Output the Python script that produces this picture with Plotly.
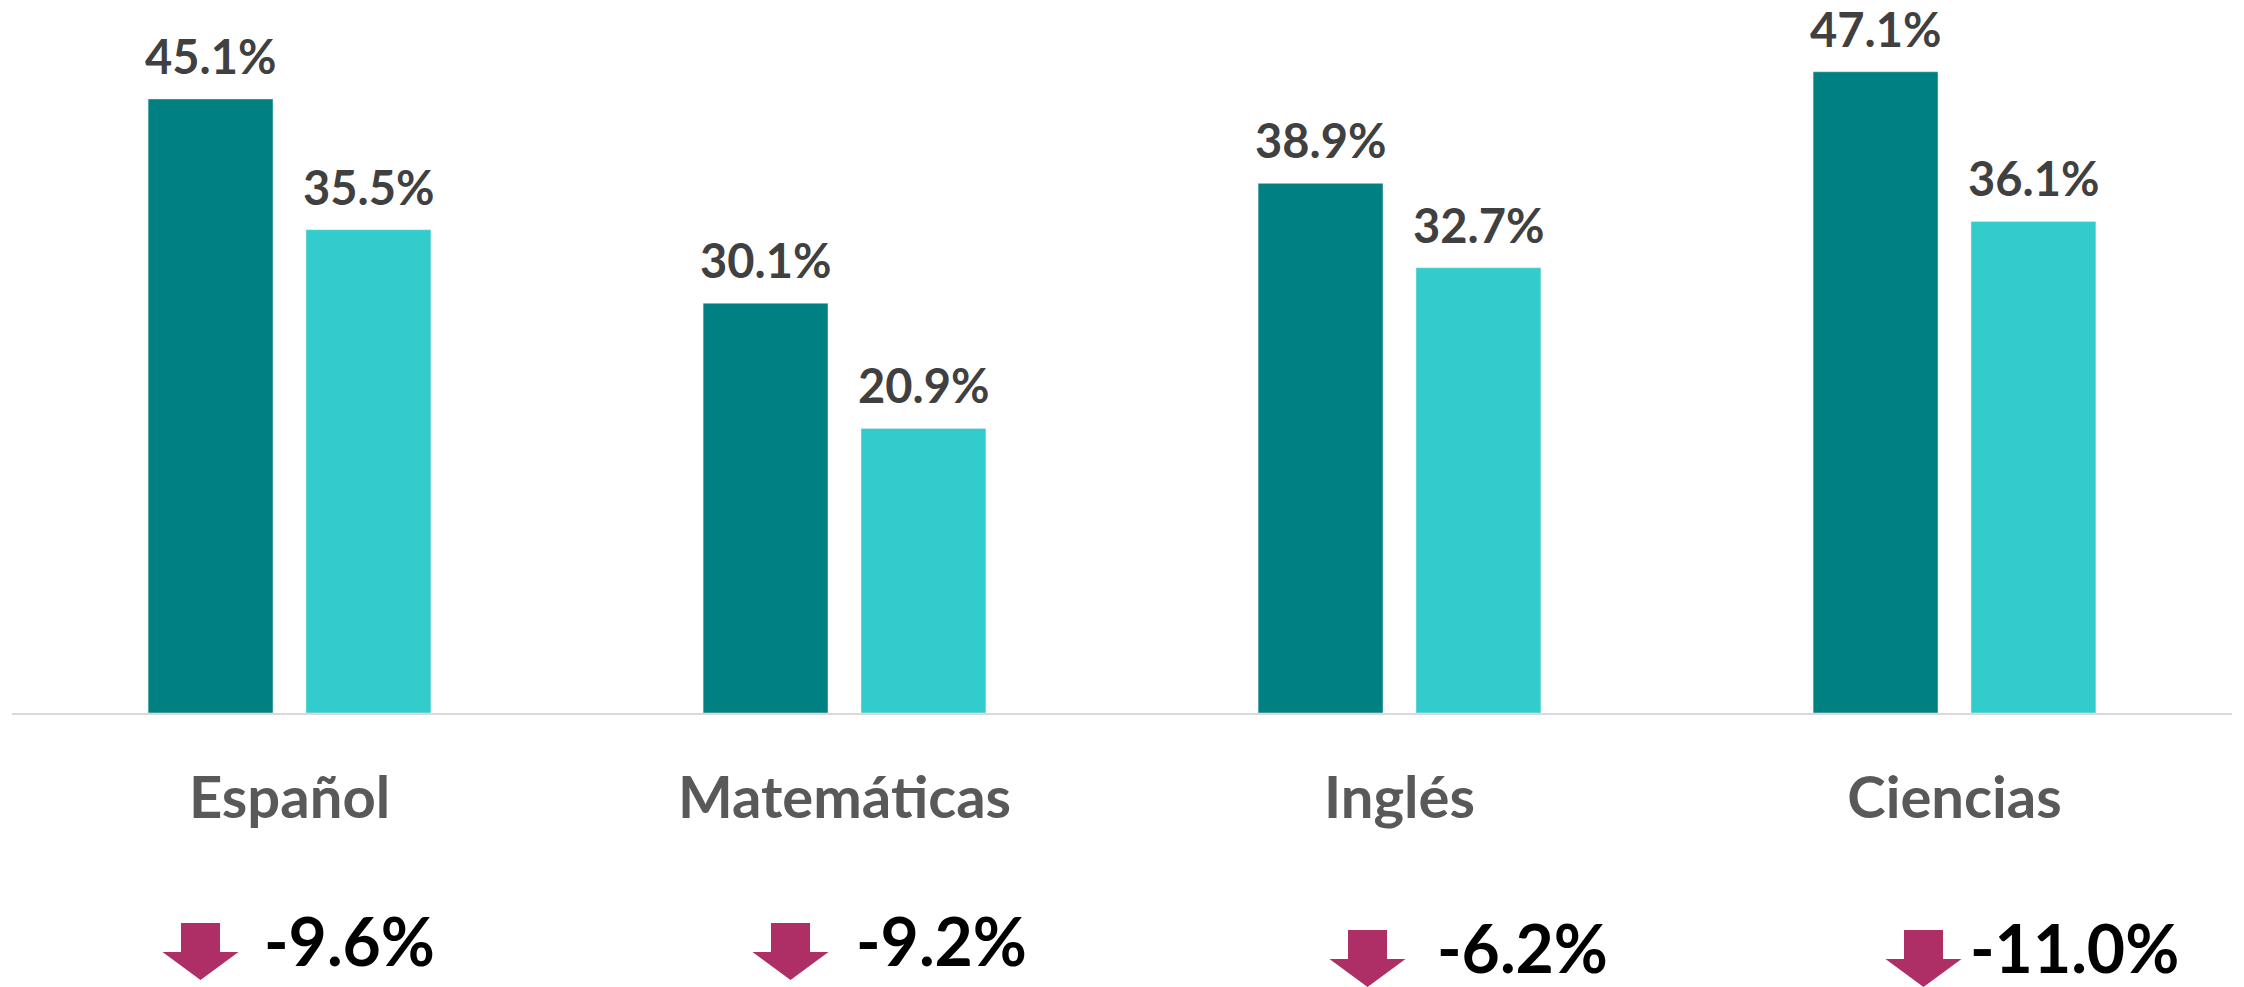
import plotly.graph_objects as go

categories = ["Español", "Matemáticas", "Inglés", "Ciencias"]
serie_1 = [45.1, 30.1, 38.9, 47.1]
serie_2 = [35.5, 20.9, 32.7, 36.1]
cambios = [-9.6, -9.2, -6.2, -11.0]

# layout-only pixel offsets (relative to group centre) for arrow/text decorations
arrow_dx = [-89, -54, -32, -31]
arrow_dy = [0, 0, 7, 7]
text_dx = [-27, 10, 36, 14]

DARK = "#008080"
LIGHT = "#33CCCC"
FONT = "Lato"

fig = go.Figure()
fig.add_bar(x=categories, y=serie_1, marker_color=DARK, name="2019")
fig.add_bar(x=categories, y=serie_2, marker_color=LIGHT, name="2021")

ann = []
for i, c in enumerate(categories):
    for vals, dx in ((serie_1, -79), (serie_2, 79)):
        ann.append(dict(x=c, y=vals[i], xref="x", yref="y", text=f"{vals[i]:.1f}%",
                        showarrow=False, xshift=dx, yshift=14, yanchor="bottom",
                        borderpad=0,
                        font=dict(family=FONT, size=47, color="#404040", weight="bold")))
    ann.append(dict(x=i, y=0, xref="x", yref="paper", text=f"{cambios[i]:.1f}%",
                    showarrow=False, xshift=text_dx[i], yshift=-227 - arrow_dy[i],
                    xanchor="left", yanchor="middle", borderpad=0,
                    font=dict(family=FONT, size=66, color="#000000", weight="bold")))

shapes = []
for i in range(len(categories)):
    dy = arrow_dy[i]
    top = -210 - dy
    mid = -239 - dy
    bot = -267 - dy
    path = (f"M -19.5 {top} L 19.5 {top} L 19.5 {mid} L 38 {mid} L 0 {bot} "
            f"L -38 {mid} L -19.5 {mid} Z")
    shapes.append(dict(type="path", xref="x", yref="paper", xsizemode="pixel",
                       ysizemode="pixel", xanchor=i + arrow_dx[i] / 555.0, yanchor=0,
                       path=path, fillcolor="#AE2F66", line=dict(width=0)))

fig.update_layout(
    width=2244, height=987,
    margin=dict(l=12, r=12, t=5, b=274),
    plot_bgcolor="white", paper_bgcolor="white",
    barmode="group", bargap=0.431, bargroupgap=0.209,
    showlegend=False,
    annotations=ann, shapes=shapes,
    xaxis=dict(showline=True, linecolor="#D9D9D9", linewidth=2, ticks="",
               tickfont=dict(family=FONT, size=58, color="#595959", weight="bold"),
               ticklabelstandoff=33),
    yaxis=dict(range=[0, 52], visible=False),
)
fig.write_html("out.html", config={"displayModeBar": False},
               post_script="document.body.style.margin='0';document.body.style.overflow='hidden';")
